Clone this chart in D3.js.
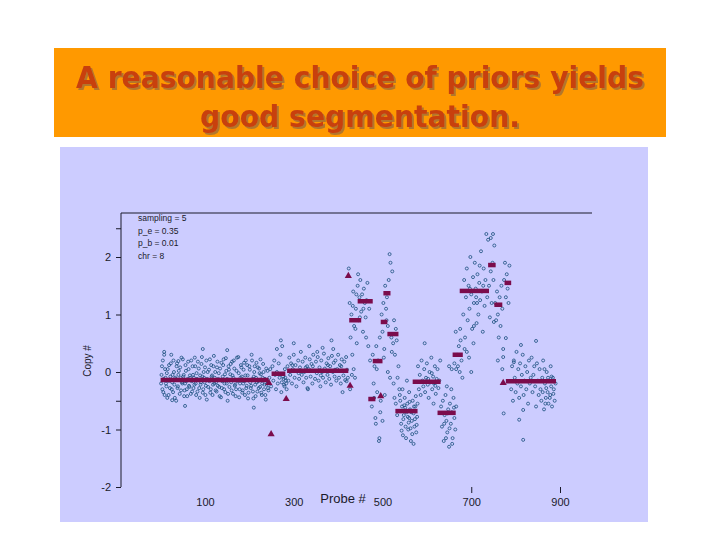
<!DOCTYPE html>
<html>
<head>
<meta charset="utf-8">
<script src="https://cdn.jsdelivr.net/npm/d3@7"></script>
<style>
  body { margin: 0; background: #fff; }
  svg { display: block; }
</style>
</head>
<body>
<div id="chart"></div>
<script>
const width = 720, height = 540;

// probe #, copy number
const pointsA = [
  [2,-0.05],[4,-0.3],[5,0.2],[7,-0.12],[9,-0.4],[10,0.05],[12,-0.2],[14,-0.02],[15,-0.45],[17,-0.15],[19,0.12],[21,-0.28],
  [22,-0.08],[24,0.3],[26,-0.18],[28,-0.35],[30,0.0],[31,-0.22],[33,-0.1],[35,-0.5],[37,0.15],[39,-0.25],[40,-0.05],[42,-0.14],
  [44,0.08],[46,-0.32],[48,-0.18],[50,0.22],[51,-0.08],[53,-0.42],[55,-0.2],[57,0.02],[59,-0.3],[61,-0.12],[62,0.18],[64,-0.24],
  [66,-0.06],[68,-0.38],[70,-0.16],[72,0.1],[74,-0.28],[75,-0.1],[77,0.25],[79,-0.2],[81,-0.02],[83,-0.34],[85,-0.14],[86,0.06],
  [88,-0.45],[90,-0.22],[92,0.14],[94,-0.08],[96,-0.3],[97,0.0],[99,-0.18],[101,-0.4],[103,0.2],[105,-0.12],[107,-0.26],[109,0.04],
  [110,-0.16],[112,-0.36],[114,0.12],[116,-0.06],[118,-0.22],[120,0.28],[122,-0.1],[124,-0.32],[125,-0.18],[127,0.08],[129,-0.24],
  [131,-0.02],[133,-0.42],[135,-0.14],[137,0.16],[138,-0.28],[140,-0.08],[142,0.22],[144,-0.2],[146,-0.35],[148,0.02],[150,-0.12],
  [151,-0.5],[153,0.1],[155,-0.26],[157,-0.04],[159,-0.18],[161,0.18],[163,-0.38],[164,-0.1],[166,0.06],[168,-0.22],[170,-0.3],
  [172,0.25],[174,-0.14],[176,-0.02],[177,-0.44],[179,-0.2],[181,0.12],[183,-0.08],[185,-0.32],[187,0.04],[189,-0.16],[190,-0.4],
  [192,0.2],[194,-0.24],[196,-0.06],[198,-0.36],[200,0.1],[202,-0.18],[203,-0.28],[205,0.3],[207,-0.12],[209,-0.46],[211,0.0],
  [213,-0.22],[215,-0.1],[216,0.16],[218,-0.34],[220,-0.16],[222,0.06],[224,-0.26],[226,-0.04],[228,-0.4],[229,-0.2],[231,0.14],
  [233,-0.3],[235,-0.12],[237,-0.48],[239,-0.22],[241,0.02],[242,-0.28],
  [26,-0.49],[55,-0.59],[40,0.19],[8,0.35],[95,0.4],[150,0.38],[210,-0.62]
];
const pointsB = [
  [1,-0.2],[3,0.1],[6,-0.35],[8,0.3],[11,-0.1],[13,-0.25],[16,0.05],[18,-0.4],[20,-0.15],[23,0.15],[25,-0.3],[27,-0.05],
  [29,0.2],[32,-0.45],[34,-0.12],[36,0.1],[38,-0.28],[41,0.02],[43,-0.38],[45,-0.1],[47,0.25],[49,-0.2],[52,-0.05],[54,-0.32],
  [56,0.12],[58,-0.16],[60,-0.42],[63,0.05],[65,-0.26],[67,-0.1],[69,0.2],[71,-0.34],[73,-0.05],[76,-0.22],[78,0.1],[80,-0.4],
  [82,-0.12],[84,0.18],[87,-0.28],[89,-0.06],[91,-0.18],[93,0.26],[95,-0.36],[98,-0.1],[100,0.08],[102,-0.24],[104,-0.48],
  [106,0.0],[108,-0.14],[111,0.22],[113,-0.3],[115,-0.08],[117,-0.4],[119,0.1],[121,-0.2],[123,0.0],[126,-0.34],[128,0.18],
  [130,-0.12],[132,-0.26],[134,0.06],[136,-0.44],[139,-0.16],[141,0.12],[143,-0.3],[145,-0.04],[147,0.24],[149,-0.2],[152,-0.38],
  [154,0.04],[156,-0.14],[158,0.14],[160,-0.32],[162,-0.06],[165,0.2],[167,-0.24],[169,-0.42],[171,0.02],[173,-0.16],[175,0.26],
  [178,-0.3],[180,-0.1],[182,0.08],[184,-0.36],[186,-0.2],[188,0.16],[191,-0.06],[193,-0.28],[195,0.12],[197,-0.46],[199,-0.14],
  [201,0.04],[204,-0.24],[206,0.2],[208,-0.34],[210,-0.08],[212,0.1],[214,-0.42],[217,-0.18],[219,0.08],[221,-0.28],[223,-0.02],
  [225,0.22],[227,-0.36],[230,-0.1],[232,0.0],[234,-0.22],[236,-0.4],[238,0.06],[240,-0.16],[243,-0.32]
];
const pointsC = [
  [245,-0.1],[247,0.05],[249,-0.25],[252,0.1],[254,-0.15],[256,0.2],[258,-0.05],[260,-0.3],[262,0.0],[264,-0.2],[266,0.15],
  [268,-0.1],[270,0.3],[272,-0.35],[274,0.45],[276,-0.08],[278,-0.22],[280,0.05],[282,-0.15],[284,-0.3],[271,0.55],[262,0.4],
  [273,-0.18],[277,-0.12],[279,-0.25],[281,-0.1],[283,-0.2]
];
const pointsD = [
  [286,0.1],[288,-0.15],[290,0.25],[292,-0.05],[294,0.15],[296,-0.2],[298,0.05],[300,0.3],[302,-0.1],[304,0.12],[306,-0.25],
  [308,0.02],[310,0.2],[312,-0.12],[314,0.08],[316,0.35],[318,-0.05],[320,0.18],[322,-0.18],[324,0.0],[326,0.25],[328,-0.1],
  [330,0.1],[332,-0.3],[334,0.05],[336,0.22],[338,-0.08],[340,0.14],[342,-0.2],[344,0.3],[346,0.02],[348,-0.12],[350,0.18],
  [352,-0.02],[354,0.26],[356,-0.15],[358,0.08],[360,-0.25],[362,0.2],[364,0.0],[366,-0.1],[368,0.32],[370,0.06],[372,-0.18],
  [374,0.15],[376,-0.05],[378,0.24],[380,-0.12],[382,0.1],[384,-0.22],[386,0.28],[388,0.0],[390,0.16],[392,-0.08],[394,0.2],
  [396,-0.15],[398,0.05],[400,0.3],[402,-0.1],[404,0.12],[406,-0.2],[408,0.22],[410,0.02],[412,-0.06],[414,0.18],[416,-0.14],
  [418,0.26],[420,0.04],[422,-0.1],
  [300,0.5],[335,0.45],[353,0.35],[385,0.55],[410,-0.35],[297,0.12],[311,-0.02],[327,0.08],[343,0.1],[361,-0.06],[377,0.12],
  [393,0.04],[407,0.1],[419,-0.16],[389,0.4],[365,0.42],[331,-0.28]
];
const pointsE = [
  [424,1.8],[426,1.2],[428,0.6],[430,1.0],[432,0.3],[434,1.4],[436,0.8],[438,-0.1],[440,1.1],[442,0.5],[444,1.5],[446,0.9],
  [448,1.3],[450,1.6],[452,1.05],[454,1.35],[456,0.7],[458,1.45],[460,1.2],[462,0.95],[464,1.25],[466,1.55],[468,0.45],[470,1.1],
  [472,0.2],[431,-0.05],[435,0.05],[427,-0.3],[439,0.75],[445,1.7],[433,1.15],[441,1.35],[449,0.95],[457,1.1],[463,0.6],
  [476,-0.6],[478,0.3],[480,-0.2],[482,0.1],[484,-0.8],[486,0.45],[488,-0.35],[490,0.2],[492,-1.2],[494,0.6],[496,-0.5],
  [498,1.0],[500,0.7],[502,1.2],[504,0.4],[506,1.5],[508,1.1],[510,1.3],[512,0.8],[514,1.6],[516,2.05],[518,1.9],[520,0.6],
  [522,1.75],[524,0.5],[526,0.9],[528,0.3],[530,0.75],[532,0.55],[534,-0.1],[536,0.1],[538,-0.3],[485,-0.9],[495,-0.7],
  [505,-0.4],[512,0.0],[525,-0.2],[530,-0.55],[493,-1.15],[500,-0.85],[481,-0.45],[487,0.05],[503,0.25],[509,0.9],[517,-0.1],
  [521,0.35],[527,-0.45],[533,-0.75]
];
const pointsF = [
  [540,-0.5],[542,-0.9],[544,-0.6],[546,-1.1],[548,-0.75],[550,-0.45],[552,-0.95],[554,-0.7],[556,-0.55],[558,-1.0],
  [560,-0.8],[562,-0.65],[564,-1.2],[566,-0.85],[568,-0.5],[570,-0.72],[572,-0.95],[574,-0.6],[576,-1.05],[578,-0.78],
  [545,-0.3],[560,-0.35],[570,-1.25],[555,-0.15],[551,-0.62],[559,-0.88],[565,-0.7],[547,-0.82],
  [541,-0.68],[543,-1.02],[549,-0.58],[553,-1.15],[557,-0.78],[561,-0.52],[563,-0.98],[567,-1.08],[571,-0.6],[573,-0.82],
  [575,-0.42],[577,-0.92],[539,-0.4],[579,-0.55],
  [580,0.1],[582,-0.3],[584,-0.05],[586,-0.4],[588,0.2],[590,-0.15],[592,-0.25],[594,0.05],[596,-0.35],[598,-0.1],[600,0.15],
  [602,-0.22],[604,-0.45],[606,0.0],[608,-0.18],[610,0.25],[612,-0.3],[614,-0.08],[616,-0.2],[618,0.1],[620,-0.38],[622,-0.12],
  [624,0.05],[626,-0.28],[628,-0.15],[630,0.2],[595,0.5],[615,-0.55],[603,-0.12],[611,-0.02],[619,-0.24],
  [632,-0.6],[634,-0.95],[636,-0.5],[638,-1.2],[640,-0.75],[642,-0.4],[644,-0.85],[646,-1.05],[648,-0.65],[650,-1.3],[652,-0.55],
  [654,-0.9],[656,-0.7],[658,-1.15],[660,-0.45],[662,-0.8],[664,-1.0],[666,-0.6],[645,-0.25],[655,-0.3],[650,0.1],[656,0.05],
  [639,-0.9],[643,-1.15],[647,-0.72],[651,-0.98],[657,-1.25],[661,-0.62],
  [668,0.3],[670,0.1],[672,0.45],[674,0.0],[676,0.55],[678,0.2],[680,-0.1],[662,0.15],[666,0.05]
];
const pointsG = [
  [682,1.0],[684,1.6],[686,0.6],[688,1.3],[690,1.8],[692,0.9],[694,1.5],[696,1.1],[698,2.0],[700,1.35],[702,0.75],[704,1.65],
  [706,1.2],[708,1.9],[710,1.45],[712,0.85],[714,1.7],[716,1.0],[718,1.55],[720,1.25],[722,2.1],[724,1.4],[726,0.7],[728,1.8],
  [730,1.15],[732,1.6],[734,2.4],[736,1.3],[738,2.3],[740,1.5],[742,0.95],[744,1.75],[746,1.2],[685,0.4],[695,0.25],[705,0.5],
  [690,0.35],[700,0.0],[665,0.7],[675,0.75],[706,0.8],[744,2.33],[749,2.4],[697,1.45],[711,1.3],[719,1.85],[727,1.5],[713,1.2],
  [748,1.9],[750,1.6],[752,2.2],[754,1.2],[756,0.9],[758,1.4],[760,1.0],[762,0.6],[764,1.3],[766,0.8],[768,1.5],[770,1.1],
  [772,0.4],[774,1.6],[776,1.9],[778,1.3],[780,1.7],[782,1.45],[784,1.2],[786,1.85],[760,0.2],[770,0.05],[751,0.87]
];
const pointsH = [
  [790,-0.3],[792,0.1],[794,-0.5],[796,0.2],[798,-0.1],[800,-0.35],[802,0.35],[804,-0.2],[806,0.05],[808,-0.45],[810,0.15],
  [812,-0.25],[814,-0.05],[816,0.3],[818,-0.4],[820,-0.15],[822,0.1],[824,-0.3],[826,0.0],[828,-0.55],[830,0.2],[832,-0.2],
  [834,-0.1],[836,0.25],[838,-0.35],[840,-0.05],[842,0.1],[844,-0.25],[846,-0.6],[848,0.15],[850,-0.15],[852,-0.4],[854,0.05],
  [856,-0.3],[858,-0.5],[860,-0.1],[862,0.2],[864,-0.65],[866,-0.2],[868,-0.45],[870,0.0],[872,-0.35],[874,-0.55],[876,-0.15],
  [878,-0.4],[880,-0.25],[882,-0.6],[884,-0.1],[886,-0.3],[888,-0.5],[890,-0.2],
  [778,0.59],[812,0.47],[846,0.54],[772,0.26],[796,0.17],[773,-0.72],[817,-0.66],[808,-0.83],[817,-1.18],
  [861,-0.35],[865,0.05],[869,-0.28],[873,-0.1],[877,-0.45],[881,-0.08],[885,-0.38],[867,-0.55],[879,0.1]
];

// segment start probe, end probe, mean copy number
const segments = [
  [0,243,-0.14],[250,281,-0.03],[285,423,0.02],[425,452,0.9],[444,478,1.23],[468,484,-0.47],[478,500,0.19],
  [496,511,0.87],[502,518,1.37],[511,536,0.66],[529,579,-0.68],[568,631,-0.17],[624,665,-0.71],[658,681,0.30],
  [674,740,1.41],[738,755,1.86],[752,770,1.17],[775,790,1.55],[778,891,-0.16]
];
// single-probe segments
const singles = [[249,-1.08],[283,-0.47],[423,1.67],[427,-0.24],[496,-0.42],[772,-0.19],[244,-0.19]];

const yTicks = [2.5, 2, 1, 0, -0.5, -1, -2];
const xTicks = [100, 300, 500, 700, 900];
const xTickMarks = [700, 900];
const legendLines = ["sampling = 5", "p_e = 0.35", "p_b = 0.01", "chr = 8"];
const titleLines = ["A reasonable choice of priors yields", "good segmentation."];

const svg = d3.select("#chart").append("svg")
  .attr("width", width).attr("height", height);

const defs = svg.append("defs");
defs.append("filter").attr("id", "shadow")
  .attr("x", "-5%").attr("y", "-20%").attr("width", "110%").attr("height", "140%")
  .append("feDropShadow")
  .attr("dx", 2).attr("dy", 2).attr("stdDeviation", 0.4)
  .attr("flood-color", "#9a6a3a").attr("flood-opacity", 0.75);

svg.append("rect").attr("width", width).attr("height", height).attr("fill", "#fff");

// title box
svg.append("rect")
  .attr("x", 54).attr("y", 48).attr("width", 612).attr("height", 89)
  .attr("fill", "#ff9900");

const titleLens = [568, 320];
svg.append("g")
  .attr("font-family", "DejaVu Sans, Verdana, sans-serif")
  .attr("font-weight", "bold")
  .attr("font-size", 30)
  .attr("text-anchor", "middle")
  .attr("fill", "#c8400c")
  .attr("filter", "url(#shadow)")
  .selectAll("text").data(titleLines).join("text")
  .attr("x", 360).attr("y", (d, i) => 88 + i * 39)
  .attr("textLength", (d, i) => titleLens[i])
  .attr("lengthAdjust", "spacingAndGlyphs")
  .text(d => d);

// chart panel
svg.append("rect")
  .attr("x", 60).attr("y", 147).attr("width", 588).attr("height", 375)
  .attr("fill", "#ccccff");

const plotLeft = 121, plotRight = 592, plotTop = 213, plotBottom = 487;
const x = d3.scaleLinear().domain([100, 900]).range([205, 560]);
const y = d3.scaleLinear().domain([-2, 2]).range([plotBottom, 257]);

const ink = "#1a1a2a";

// frame: left axis and top line
svg.append("line").attr("x1", plotLeft).attr("x2", plotLeft).attr("y1", plotTop).attr("y2", plotBottom)
  .attr("stroke", ink).attr("stroke-width", 1);
svg.append("line").attr("x1", plotLeft).attr("x2", plotRight).attr("y1", plotTop).attr("y2", plotTop)
  .attr("stroke", ink).attr("stroke-width", 1);

const yAxis = svg.append("g")
  .attr("transform", `translate(${plotLeft},0)`)
  .call(d3.axisLeft(y).tickValues(yTicks).tickSize(5).tickPadding(5)
    .tickFormat(d => Number.isInteger(d) ? d : ""));
yAxis.select(".domain").remove();
yAxis.selectAll("line").attr("stroke", ink);
yAxis.selectAll("text").attr("font-family", "Liberation Sans, Arial, sans-serif")
  .attr("font-size", 11).attr("fill", ink);

const xAxis = svg.append("g")
  .attr("transform", `translate(0,${plotBottom})`)
  .call(d3.axisBottom(x).tickValues(xTicks).tickSize(6).tickPadding(5));
xAxis.select(".domain").remove();
xAxis.selectAll(".tick line").attr("stroke", ink)
  .attr("opacity", d => xTickMarks.includes(d) ? 1 : 0);
xAxis.selectAll("text").attr("font-family", "Liberation Sans, Arial, sans-serif")
  .attr("font-size", 11).attr("fill", ink);

svg.append("text")
  .attr("x", 343).attr("y", 503)
  .attr("text-anchor", "middle")
  .attr("font-family", "Liberation Sans, Arial, sans-serif")
  .attr("font-size", 13).attr("fill", ink)
  .text("Probe #");

svg.append("text")
  .attr("transform", "translate(91,361) rotate(-90)")
  .attr("text-anchor", "middle")
  .attr("font-family", "Liberation Sans, Arial, sans-serif")
  .attr("font-size", 10).attr("fill", ink)
  .text("Copy #");

// legend text
svg.append("g").selectAll("text").data(legendLines).join("text")
  .attr("x", 138).attr("y", (d, i) => 221 + i * 12.5)
  .attr("font-family", "Liberation Sans, Arial, sans-serif")
  .attr("font-size", 8.5).attr("fill", ink)
  .text(d => d);

// data points
const allPoints = [].concat(pointsA, pointsB, pointsC, pointsD, pointsE, pointsF, pointsG, pointsH);
svg.append("g").selectAll("circle").data(allPoints).join("circle")
  .attr("cx", d => x(d[0]))
  .attr("cy", d => y(d[1]))
  .attr("r", 1.5)
  .attr("fill", "none")
  .attr("stroke", "#1b4f7d")
  .attr("stroke-width", 0.8);

// segmentation
const segColor = "#7b0c4c";
svg.append("g").selectAll("line").data(segments).join("line")
  .attr("x1", d => x(d[0]))
  .attr("x2", d => x(d[1]))
  .attr("y1", d => y(d[2]))
  .attr("y2", d => y(d[2]))
  .attr("stroke", segColor)
  .attr("stroke-width", 4.5);

svg.append("g").selectAll("path").data(singles).join("path")
  .attr("transform", d => `translate(${x(d[0])},${y(d[1])})`)
  .attr("d", d3.symbol(d3.symbolTriangle, 22))
  .attr("fill", segColor);
</script>
</body>
</html>
